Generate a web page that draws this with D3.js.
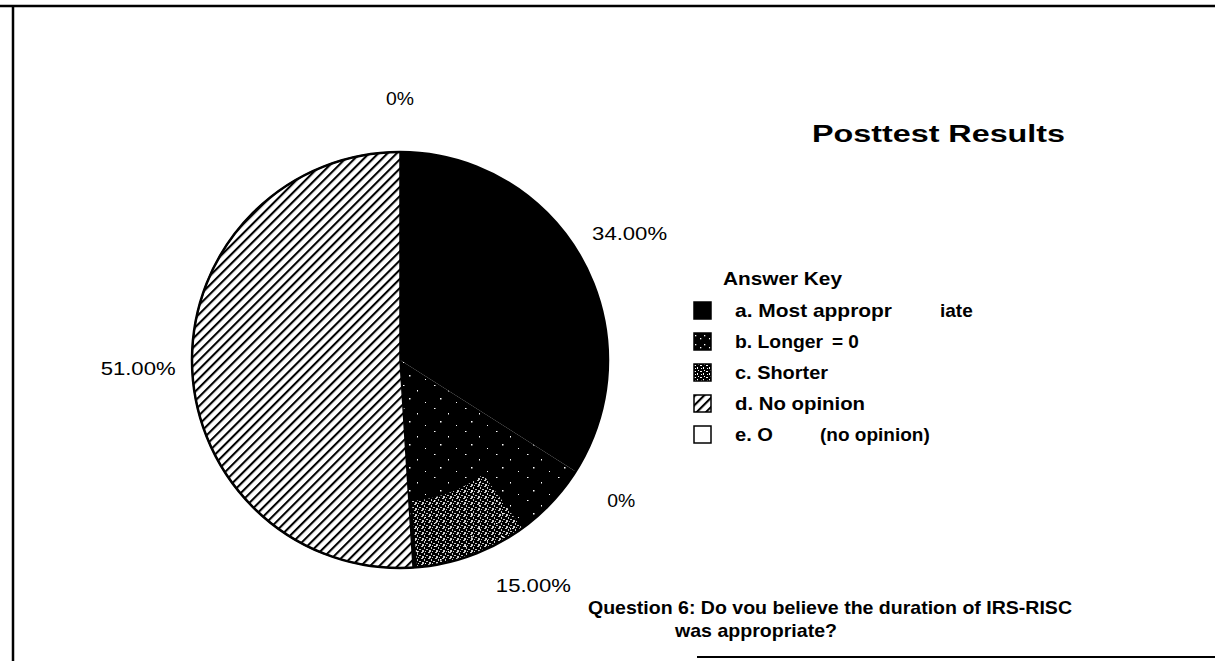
<!DOCTYPE html>
<html>
<head>
<meta charset="utf-8">
<script src="https://cdn.jsdelivr.net/npm/d3@7/dist/d3.min.js"></script>
<style>
body { margin: 0; background: #fff; }
text { font-family: "Liberation Sans", Arial, Helvetica, sans-serif; fill: #000; }
</style>
</head>
<body>
<div id="chart"></div>
<script>
// answers, in pie order (clockwise from 12 o'clock)
var categories = ["a. Most appropriate", "b. Longer", "c. Shorter", "d. No opinion", "e. O (no opinion)"];
var values = [34, 0, 15, 51, 0];
var sliceLabels = ["34.00%", "0%", "15.00%", "51.00%", "0%"];
// legend text as printed (with its gaps)
var legendFirst = ["a. Most appropr", "b. Longer", "c. Shorter", "d. No opinion", "e. O"];
var legendSecond = ["iate", "= 0", "", "", "(no opinion)"];
var fills = ["#000", "url(#sparse)", "url(#speckle)", "url(#hatch)", "#fff"];

var width = 1215, height = 663;
var cx = 400, cy = 360, radius = 208;

var svg = d3.select("#chart").append("svg")
	.attr("width", width)
	.attr("height", height);

var defs = svg.append("defs");

function specks(pat, w, h, bg, dots) {
	var p = defs.append("pattern").attr("id", pat)
		.attr("patternUnits", "userSpaceOnUse").attr("width", w).attr("height", h);
	if (bg) p.append("rect").attr("width", w).attr("height", h).attr("fill", bg);
	dots.forEach(function(d) {
		p.append("rect").attr("x", d[0]).attr("y", d[1]).attr("width", d[2]).attr("height", d[3]).attr("fill", "#fff");
	});
}

specks("sparse", 9, 9, "#000", [[1, 2, 1.3, 1.3], [6, 5, 1.3, 1.3]]);
specks("speckle", 31, 23, "#000", [[3, 2, 1.5, 1], [17, 7, 1, 1.5], [9, 15, 1.5, 1.5], [25, 19, 1, 1]]);
specks("dense", 7, 6, null, [[0, 0, 2, 1], [3, 1, 1, 2], [5, 3, 2, 1], [1, 4, 2, 2], [4, 5, 1, 1]]);
specks("swatchC", 6, 6, "#000", [[0, 1, 2, 1], [3, 3, 1, 2], [1, 4, 1, 1], [4, 0, 1, 1]]);

// diagonal hatch
var hatch = defs.append("pattern").attr("id", "hatch")
	.attr("patternUnits", "userSpaceOnUse").attr("width", 6.5).attr("height", 6.5)
	.attr("patternTransform", "rotate(45)");
hatch.append("rect").attr("width", 6.5).attr("height", 6.5).attr("fill", "#fff");
hatch.append("line").attr("x1", 1).attr("y1", 0).attr("x2", 1).attr("y2", 6.5)
	.attr("stroke", "#000").attr("stroke-width", 2.2);

// frame
svg.append("line").attr("x1", 0).attr("y1", 6).attr("x2", width).attr("y2", 6)
	.attr("stroke", "#000").attr("stroke-width", 2.5);
svg.append("line").attr("x1", 13).attr("y1", 6).attr("x2", 13).attr("y2", 661)
	.attr("stroke", "#000").attr("stroke-width", 2.5);
svg.append("line").attr("x1", 697).attr("y1", 657).attr("x2", width).attr("y2", 657)
	.attr("stroke", "#000").attr("stroke-width", 2);

// pie
var pie = d3.pie().sort(null).value(function(d) { return d; });
var arcs = pie(values);

var arc = d3.arc().innerRadius(0).outerRadius(radius);
var rim = d3.arc().innerRadius(radius * 0.68).outerRadius(radius - 1);
var labelArc = d3.arc().innerRadius(radius + 54).outerRadius(radius + 54);

var g = svg.append("g").attr("transform", "translate(" + cx + "," + cy + ")");

g.selectAll("path.slice")
	.data(arcs).enter()
	.append("path")
	.attr("class", "slice")
	.attr("d", arc)
	.attr("fill", function(d, i) { return fills[i]; })
	.attr("stroke", function(d, i) { return i == 3 ? "#000" : "none"; })
	.attr("stroke-width", 1.5);

// the light speckling sits low in the "Shorter" slice
var c = arcs[2];
g.append("path")
	.attr("d", rim({startAngle: c.startAngle + (c.endAngle - c.startAngle) * 0.4, endAngle: c.endAngle - 0.02}))
	.attr("fill", "url(#dense)")
	.attr("opacity", 0.8);

g.append("circle").attr("r", radius)
	.attr("fill", "none").attr("stroke", "#000").attr("stroke-width", 2.5);

var pctWidth = {"0%": 28};
g.selectAll("text.pct")
	.data(arcs).enter()
	.append("text")
	.attr("class", "pct")
	.attr("transform", function(d) { return "translate(" + labelArc.centroid(d) + ")"; })
	.attr("text-anchor", "middle")
	.attr("dy", "0.35em")
	.attr("textLength", function(d, i) { return pctWidth[sliceLabels[i]] || 75; })
	.attr("lengthAdjust", "spacingAndGlyphs")
	.style("font-size", "19px")
	.text(function(d, i) { return sliceLabels[i]; });

// title
svg.append("text")
	.attr("x", 812).attr("y", 142)
	.attr("textLength", 253).attr("lengthAdjust", "spacingAndGlyphs")
	.style("font-size", "23px").style("font-weight", "bold")
	.text("Posttest Results");

// legend
var legend = svg.append("g").attr("transform", "translate(694,0)");
legend.append("text")
	.attr("x", 29).attr("y", 285)
	.attr("textLength", 119).attr("lengthAdjust", "spacingAndGlyphs")
	.style("font-size", "18px").style("font-weight", "bold")
	.text("Answer Key");

var rows = legend.selectAll("g.row")
	.data(categories).enter()
	.append("g")
	.attr("class", "row")
	.attr("transform", function(d, i) { return "translate(0," + (302 + i * 31) + ")"; });

rows.append("rect")
	.attr("width", 17).attr("height", 17)
	.attr("fill", function(d, i) { return i == 2 ? "url(#swatchC)" : fills[i]; })
	.attr("stroke", "#000").attr("stroke-width", 1.5);

var firstLen = [157, 88, 93, 130, 38];
rows.append("text")
	.attr("x", 41).attr("y", 15)
	.attr("textLength", function(d, i) { return firstLen[i]; })
	.attr("lengthAdjust", "spacingAndGlyphs")
	.style("font-size", "19px").style("font-weight", "bold")
	.text(function(d, i) { return legendFirst[i]; });

var secondX = [246, 138, 0, 0, 126];
rows.filter(function(d, i) { return legendSecond[i] != ""; })
	.append("text")
	.attr("x", function(d) { return secondX[categories.indexOf(d)]; })
	.attr("y", 15)
	.style("font-size", "19px").style("font-weight", "bold")
	.text(function(d) { return legendSecond[categories.indexOf(d)]; });

// question
svg.append("text")
	.attr("x", 588).attr("y", 614)
	.attr("textLength", 484).attr("lengthAdjust", "spacingAndGlyphs")
	.style("font-size", "19px").style("font-weight", "bold")
	.text("Question 6: Do vou believe the duration of IRS-RISC");
svg.append("text")
	.attr("x", 675).attr("y", 637)
	.attr("textLength", 162).attr("lengthAdjust", "spacingAndGlyphs")
	.style("font-size", "19px").style("font-weight", "bold")
	.text("was appropriate?");
</script>
</body>
</html>
